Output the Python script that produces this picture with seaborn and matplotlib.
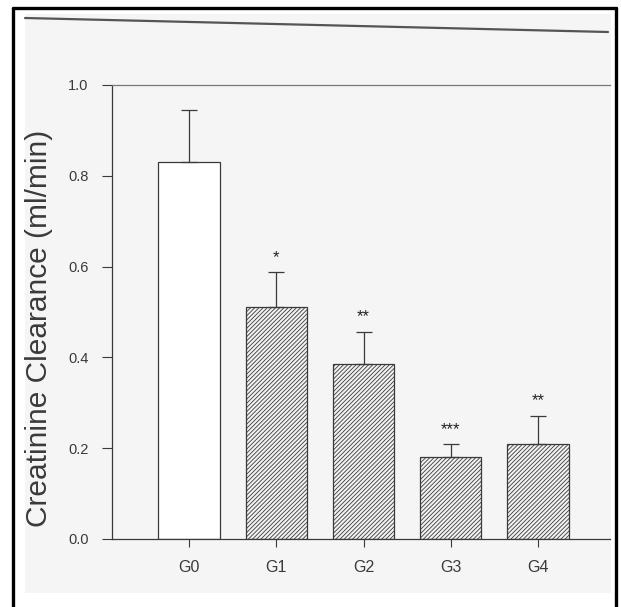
import numpy as np
import pandas as pd
import seaborn as sns
import matplotlib
matplotlib.use("Agg")
import matplotlib.pyplot as plt
from matplotlib.lines import Line2D
from matplotlib.patches import Rectangle

# Creatinine clearance per group (mean and SD, ml/min)
groups = ["G0", "G1", "G2", "G3", "G4"]
means = [0.830, 0.511, 0.386, 0.181, 0.210]
sds = [0.115, 0.077, 0.071, 0.029, 0.062]
marks = ["", "*", "**", "***", "**"]
yticks = [0.0, 0.2, 0.4, 0.6, 0.8, 1.0]

df = pd.DataFrame({"group": groups, "clearance": means, "sd": sds})

sns.set_theme(style="white")
plt.rcParams["font.family"] = ["Liberation Sans", "DejaVu Sans"]
plt.rcParams["hatch.color"] = "#6a6a6a"
plt.rcParams["hatch.linewidth"] = 0.6

W, H = 621, 607
fig = plt.figure(figsize=(W / 100, H / 100), dpi=100)
fig.patch.set_facecolor("white")

# paper area and outer frame
fig.add_artist(Rectangle((25 / W, 1 - 593 / H), (611 - 25) / W, (593 - 14) / H,
                         transform=fig.transFigure, facecolor="#f5f5f5",
                         edgecolor="none", zorder=-5))
frame_kw = dict(transform=fig.transFigure, color="black", lw=2.4, zorder=10)
fig.add_artist(Line2D([12.5 / W, 12.5 / W], [0, 1 - 7.5 / H], **frame_kw))
fig.add_artist(Line2D([12.5 / W, 616 / W], [1 - 7.5 / H, 1 - 7.5 / H], **frame_kw))
fig.add_artist(Line2D([616 / W, 616 / W], [0, 1 - 7.5 / H], **frame_kw))
# heavy rule across the top of the page
fig.add_artist(Line2D([25 / W, 608 / W], [1 - 18 / H, 1 - 32 / H],
                      transform=fig.transFigure, color="#555555", lw=1.6, zorder=-4))

ax = fig.add_axes([112 / W, 1 - 539 / H, (610 - 112) / W, (539 - 85) / H])
ax.patch.set_alpha(0)

sns.barplot(data=df, x="group", y="clearance", ax=ax, errorbar=None,
            width=0.70, color="white", edgecolor="#3a3a3a", linewidth=0.9,
            saturation=1)
for i, p in enumerate(ax.patches):
    p.set_facecolor("white" if i == 0 else "#f2f2f2")
    if i > 0:
        p.set_hatch("////////")

x = np.arange(len(groups))
ax.errorbar(x, means, yerr=[np.zeros(len(sds)), sds], fmt="none",
            ecolor="#3a3a3a", elinewidth=0.9, capsize=6, capthick=0.9, zorder=3)
for xi, m, s, t in zip(x, means, sds, marks):
    if t:
        ax.annotate(t, (xi, m + s), xytext=(0, 5), textcoords="offset points",
                    ha="center", va="bottom", fontsize=12, color="#222222")

ax.set_xlim(-0.8825, 4.825)
ax.set_ylim(0, 1.0)
ax.set_yticks(yticks)
ax.set_yticklabels([f"{v:.1f}" for v in yticks])
ax.set_xlabel("")
ax.set_ylabel("")

ax.spines["right"].set_visible(False)
ax.spines["left"].set_color("#3a3a3a")
ax.spines["bottom"].set_color("#3a3a3a")
ax.spines["top"].set_color("#777777")
for s in ["left", "bottom", "top"]:
    ax.spines[s].set_linewidth(0.9)

ax.tick_params(axis="y", direction="out", length=7, width=0.8, pad=10,
               labelsize=10.5, colors="#3a3a3a", left=True)
ax.tick_params(axis="x", direction="out", length=6, width=0.8, pad=9,
               labelsize=11.5, colors="#3a3a3a", bottom=True)

fig.text(39 / W, 1 - 328 / H, "Creatinine Clearance (ml/min)", rotation=90,
         ha="center", va="center", fontsize=21.5, color="#3a3a3a")

fig.savefig("out.png", dpi=100)
